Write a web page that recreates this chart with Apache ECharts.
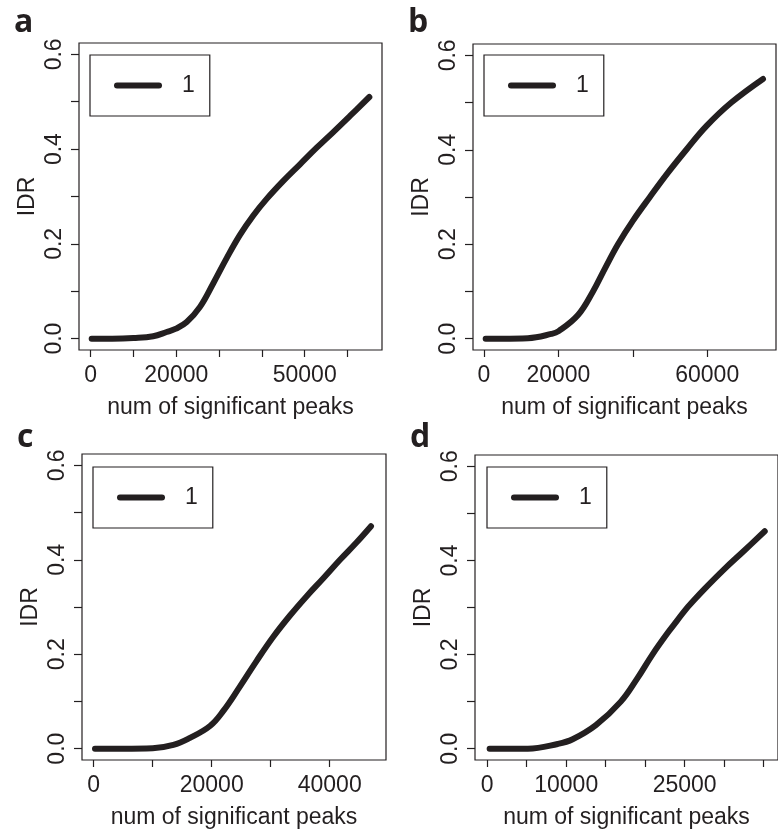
<!DOCTYPE html>
<html>
<head>
<meta charset="utf-8">
<script src="https://cdn.jsdelivr.net/npm/echarts@6/dist/echarts.min.js"></script>
<style>
  html, body { margin: 0; padding: 0; background: #fff; }
  #chart { width: 778px; height: 832px; }
</style>
</head>
<body>
<div id="chart"></div>
<script>
// IDR versus number of significant peaks, four replicate comparisons (a-d)
const panelLetters = ['a', 'b', 'c', 'd'];
const seriesName = '1';
const xAxisTitle = 'num of significant peaks';
const yAxisTitle = 'IDR';

// [num of significant peaks, IDR]
const idrA = [[227, 0], [5000, 0], [10000, 0.0013], [14600, 0.005], [17750, 0.014], [19930, 0.021],
  [22430, 0.035], [25540, 0.067], [28650, 0.117], [31770, 0.170], [34880, 0.219], [37990, 0.260],
  [41120, 0.295], [45000, 0.333], [48900, 0.368], [52800, 0.403], [56680, 0.436], [60580, 0.470], [65100, 0.510]];
const idrB = [[450, 0], [5000, 0], [11800, 0.001], [18100, 0.010], [20070, 0.016], [25270, 0.050],
  [29300, 0.100], [32600, 0.150], [36020, 0.200], [40050, 0.250], [44600, 0.300], [49300, 0.350],
  [54390, 0.400], [59770, 0.450], [66490, 0.500], [75000, 0.550]];
const idrC = [[220, 0], [5000, 0], [10000, 0.001], [13500, 0.008], [16320, 0.023], [19710, 0.048],
  [21970, 0.080], [24800, 0.132], [27620, 0.186], [30440, 0.237], [33270, 0.282], [36100, 0.323],
  [38920, 0.361], [41750, 0.400], [44580, 0.437], [47000, 0.471]];
const idrD = [[300, 0], [5140, 0], [8920, 0.010], [10820, 0.020], [13760, 0.050], [16920, 0.100],
  [19030, 0.150], [20920, 0.200], [23030, 0.250], [24000, 0.271], [25000, 0.293], [26000, 0.312],
  [27500, 0.339], [30000, 0.381], [32500, 0.420], [35150, 0.462]];

// x-axis ticks and the labels that are printed
const xTicksA = [0, 10000, 20000, 30000, 40000, 50000, 60000];
const xLabelsA = [0, 20000, 50000];
const xTicksB = [0, 20000, 40000, 60000];
const xLabelsB = [0, 20000, 60000];
const xTicksC = [0, 10000, 20000, 30000, 40000];
const xLabelsC = [0, 20000, 40000];
const xTicksD = [0, 5000, 10000, 15000, 20000, 25000, 30000, 35000];
const xLabelsD = [0, 10000, 25000];
// y-axis ticks and printed labels (shared)
const yTicks = [0, 0.1, 0.2, 0.3, 0.4, 0.5, 0.6];
const yLabels = [0, 0.2, 0.4, 0.6];

// padded axis extents
const xExtents = [[-2734, 68060], [-2957, 78495], [-1983, 49542], [-1553, 36831]];
const yExtent = [-0.024, 0.624];

const INK = '#231f20';
const FONT = '"Liberation Sans", Arial, sans-serif';
const FS = 23;

const data = [idrA, idrB, idrC, idrD];
const xTicks = [xTicksA, xTicksB, xTicksC, xTicksD];
const xLabels = [xLabelsA, xLabelsB, xLabelsC, xLabelsD];

// panel boxes (px)
const boxes = [
  { left: 79, top: 43, width: 303, height: 307 },
  { left: 473, top: 44, width: 303, height: 306 },
  { left: 82, top: 454, width: 304, height: 306 },
  { left: 475, top: 455, width: 305, height: 305 }
];
const legendPos = [
  { left: 90, top: 55 },
  { left: 484, top: 55 },
  { left: 93, top: 467 },
  { left: 487, top: 467 }
];
const letterPos = [[14, 7], [408, 7], [17, 422], [410, 422]];

const option = {
  backgroundColor: '#fff',
  animation: false,
  grid: boxes.map(b => Object.assign({
    show: true, borderColor: INK, borderWidth: 1.2, backgroundColor: 'transparent', containLabel: false
  }, b)),
  xAxis: boxes.map((b, i) => ({
    type: 'value', gridIndex: i,
    min: xExtents[i][0], max: xExtents[i][1],
    name: xAxisTitle, nameLocation: 'middle', nameGap: 46,
    nameTextStyle: { fontFamily: FONT, fontSize: FS, color: INK },
    splitLine: { show: false },
    axisLine: { show: false, onZero: false },
    axisTick: { show: true, inside: false, length: 7, lineStyle: { color: INK, width: 1.2 }, customValues: xTicks[i] },
    axisLabel: { show: true, margin: 14, fontFamily: FONT, fontSize: FS, color: INK,
      customValues: xLabels[i], formatter: v => String(Math.round(v)) }
  })),
  yAxis: boxes.map((b, i) => ({
    type: 'value', gridIndex: i,
    min: yExtent[0], max: yExtent[1],
    name: yAxisTitle, nameLocation: 'middle', nameGap: 40, nameRotate: 90,
    nameTextStyle: { fontFamily: FONT, fontSize: FS, color: INK },
    splitLine: { show: false },
    axisLine: { show: false, onZero: false },
    axisTick: { show: true, inside: false, length: 8, lineStyle: { color: INK, width: 1.2 }, customValues: yTicks },
    axisLabel: { show: true, rotate: 90, margin: 12.5, fontFamily: FONT, fontSize: FS, color: INK,
      customValues: yLabels, formatter: v => v.toFixed(1) }
  })),
  legend: legendPos.map(p => ({
    left: p.left, top: p.top, orient: 'horizontal',
    data: [seriesName],
    selectedMode: false,
    backgroundColor: '#fff',
    borderColor: INK, borderWidth: 1.2, borderRadius: 0,
    padding: [19, 15, 19, 24],
    itemWidth: 42, itemHeight: 20, itemGap: 0,
    itemStyle: { opacity: 0 },
    lineStyle: { width: 6, color: INK, cap: 'round' },
    textStyle: { fontFamily: FONT, fontSize: FS, color: INK, lineHeight: 23, padding: [0, 0, 0, 18] }
  })),
  graphic: panelLetters.map((t, i) => ({
    type: 'text', left: letterPos[i][0], top: letterPos[i][1],
    style: { text: t, font: 'bold 32px "Open Sans", sans-serif', fill: INK }
  })),
  series: data.map((d, i) => ({
    type: 'line', name: seriesName,
    xAxisIndex: i, yAxisIndex: i,
    data: d,
    showSymbol: false, symbol: 'none',
    smooth: 0.4,
    lineStyle: { width: 6, color: INK, cap: 'round', join: 'round' },
    itemStyle: { color: INK },
    clip: false
  }))
};

const chart = echarts.init(document.getElementById('chart'), null, { renderer: 'canvas' });
chart.setOption(option);
</script>
</body>
</html>
